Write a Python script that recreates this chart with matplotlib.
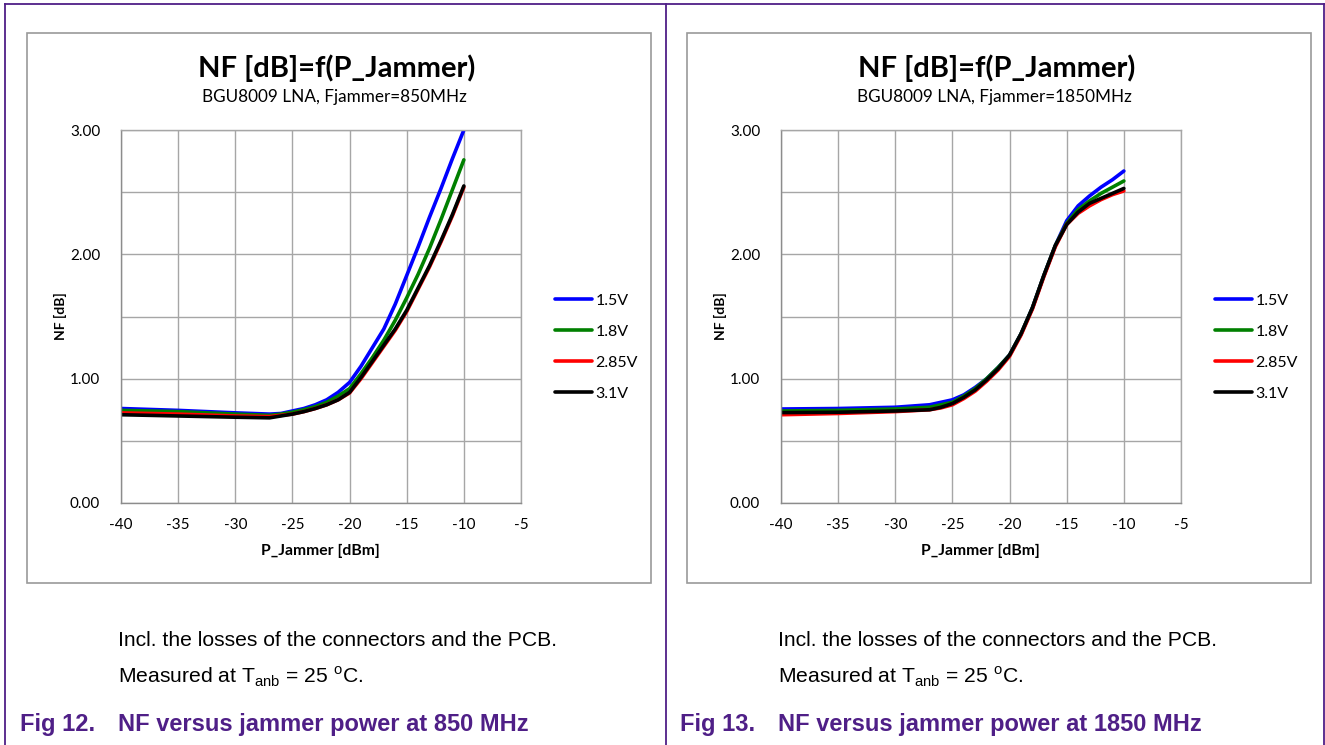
import matplotlib
matplotlib.use("Agg")
import matplotlib.pyplot as plt
from matplotlib.lines import Line2D
from matplotlib.patches import Rectangle

W, H = 1325, 745

# P_Jammer [dBm]
p_jam = [-40, -35, -30, -27, -26, -25, -24, -23, -22, -21, -20,
         -19, -18, -17, -16, -15, -14, -13, -12, -11, -10]

# NF [dB] at Fjammer = 850 MHz
nf850_15 = [0.76, 0.745, 0.725, 0.715, 0.72, 0.74, 0.76, 0.79, 0.83, 0.89, 0.97,
            1.10, 1.25, 1.40, 1.60, 1.83, 2.06, 2.30, 2.53, 2.77, 3.00]
nf850_18 = [0.745, 0.735, 0.715, 0.705, 0.715, 0.73, 0.75, 0.775, 0.81, 0.86, 0.92,
            1.04, 1.17, 1.31, 1.47, 1.65, 1.84, 2.05, 2.28, 2.52, 2.76]
nf850_285 = [0.725, 0.715, 0.70, 0.695, 0.705, 0.715, 0.735, 0.76, 0.79, 0.83, 0.885,
             1.00, 1.13, 1.26, 1.39, 1.54, 1.72, 1.90, 2.10, 2.31, 2.54]
nf850_31 = [0.71, 0.70, 0.69, 0.685, 0.70, 0.715, 0.735, 0.76, 0.79, 0.83, 0.89,
            1.01, 1.14, 1.27, 1.40, 1.55, 1.73, 1.91, 2.11, 2.32, 2.55]

# NF [dB] at Fjammer = 1850 MHz
nf1850_15 = [0.756, 0.76, 0.77, 0.79, 0.81, 0.83, 0.87, 0.93, 1.00, 1.09, 1.19,
             1.36, 1.57, 1.83, 2.07, 2.27, 2.39, 2.47, 2.54, 2.60, 2.67]
nf1850_18 = [0.74, 0.745, 0.756, 0.77, 0.79, 0.81, 0.86, 0.92, 1.00, 1.09, 1.19,
             1.36, 1.57, 1.83, 2.07, 2.25, 2.36, 2.43, 2.49, 2.54, 2.59]
nf1850_285 = [0.71, 0.72, 0.735, 0.75, 0.765, 0.79, 0.84, 0.90, 0.98, 1.07, 1.18,
              1.35, 1.56, 1.82, 2.06, 2.24, 2.33, 2.39, 2.44, 2.48, 2.51]
nf1850_31 = [0.727, 0.73, 0.74, 0.75, 0.77, 0.80, 0.85, 0.91, 0.99, 1.08, 1.19,
             1.36, 1.57, 1.83, 2.07, 2.24, 2.34, 2.41, 2.45, 2.49, 2.53]

labels = ["1.5V", "1.8V", "2.85V", "3.1V"]
colors = ["#0000ff", "#008000", "#ff0000", "#000000"]

x_ticks = [-40, -35, -30, -25, -20, -15, -10, -5]
y_ticks = [0, 1, 2, 3]

chart_font = "Lato"
doc_font = "Liberation Sans"
purple = "#4f1f87"
grid_c = "#a6a6a6"


def fx(x):
    return x / W


def fy(y):
    return 1 - y / H


plt.rcParams["mathtext.fontset"] = "custom"
plt.rcParams["mathtext.rm"] = doc_font

fig = plt.figure(figsize=(W / 100, H / 100), dpi=100)

# page frame lines
for (x0, y0, x1, y1) in [(5, 4, 1325, 4), (5, 4, 5, 745), (665.5, 4, 665.5, 745), (1323.5, 4, 1323.5, 745)]:
    fig.add_artist(Line2D([fx(x0), fx(x1)], [fy(y0), fy(y1)], color=purple, lw=1.3))


def draw_panel(off, series, freq, fig_no):
    # chart box
    fig.add_artist(Rectangle((fx(27 + off), fy(583)), 624 / W, 550 / H,
                             fill=False, edgecolor="#9a9a9a", lw=1.2))
    ax = fig.add_axes([fx(121 + off), fy(503), 400 / W, 373 / H])
    for vals, lab, c in zip(series, labels, colors):
        ax.plot(p_jam, vals, color=c, lw=2.6, label=lab, solid_capstyle="round")
    ax.set_xlim(-40, -5)
    ax.set_ylim(0, 3)
    ax.set_xticks(x_ticks)
    ax.set_yticks(y_ticks)
    ax.set_yticks([0.5, 1.5, 2.5], minor=True)
    ax.set_yticklabels(["%.2f" % v for v in y_ticks], fontfamily=chart_font, fontsize=11)
    ax.set_xticklabels([str(v) for v in x_ticks], fontfamily=chart_font, fontsize=11)
    ax.tick_params(axis="both", which="both", length=0)
    ax.tick_params(axis="y", pad=15)
    ax.tick_params(axis="x", pad=11)
    ax.grid(True, which="both", color=grid_c, lw=1.0)
    for s in ax.spines.values():
        s.set_color("#8c8c8c")
        s.set_linewidth(1.0)
    ax.spines["top"].set_color(grid_c)
    ax.spines["right"].set_color(grid_c)
    ax.set_axisbelow(True)
    ax.legend(loc="center left", bbox_to_anchor=(1.05, 0.418), frameon=False,
              handlelength=2.3, handletextpad=0.2, labelspacing=1.05,
              prop={"family": chart_font, "size": 11.5})

    fig.text(fx(337 + off), fy(68), "NF [dB]=f(P_Jammer)", ha="center", va="center",
             fontfamily=chart_font, fontweight="bold", fontsize=21)
    fig.text(fx(334 + off), fy(97), "BGU8009 LNA, Fjammer=%dMHz" % freq, ha="center", va="center",
             fontfamily=chart_font, fontsize=12.3)
    fig.text(fx(60 + off), fy(316), "NF [dB]", rotation=90, ha="center", va="center",
             fontfamily=chart_font, fontweight="bold", fontsize=10)
    fig.text(fx(320 + off), fy(551), "P_Jammer [dBm]", ha="center", va="center",
             fontfamily=chart_font, fontweight="bold", fontsize=11.3)

    fig.text(fx(118 + off), fy(641), "Incl. the losses of the connectors and the PCB.",
             ha="left", va="center", fontfamily=doc_font, fontsize=15.2)
    fig.text(fx(118 + off), fy(677), r"Measured at T$_{\mathregular{anb}}$ = 25 $^{\mathregular{o}}$C.",
             ha="left", va="center", fontfamily=doc_font, fontsize=15.2)
    fig.text(fx(20 + off), fy(724), "Fig %d." % fig_no, ha="left", va="center",
             fontfamily=doc_font, fontweight="bold", fontsize=17, color=purple)
    fig.text(fx(118 + off), fy(724), "NF versus jammer power at %d MHz" % freq, ha="left", va="center",
             fontfamily=doc_font, fontweight="bold", fontsize=17, color=purple)


draw_panel(0, [nf850_15, nf850_18, nf850_285, nf850_31], 850, 12)
draw_panel(660, [nf1850_15, nf1850_18, nf1850_285, nf1850_31], 1850, 13)

fig.savefig("out.png", dpi=100, facecolor="white")
